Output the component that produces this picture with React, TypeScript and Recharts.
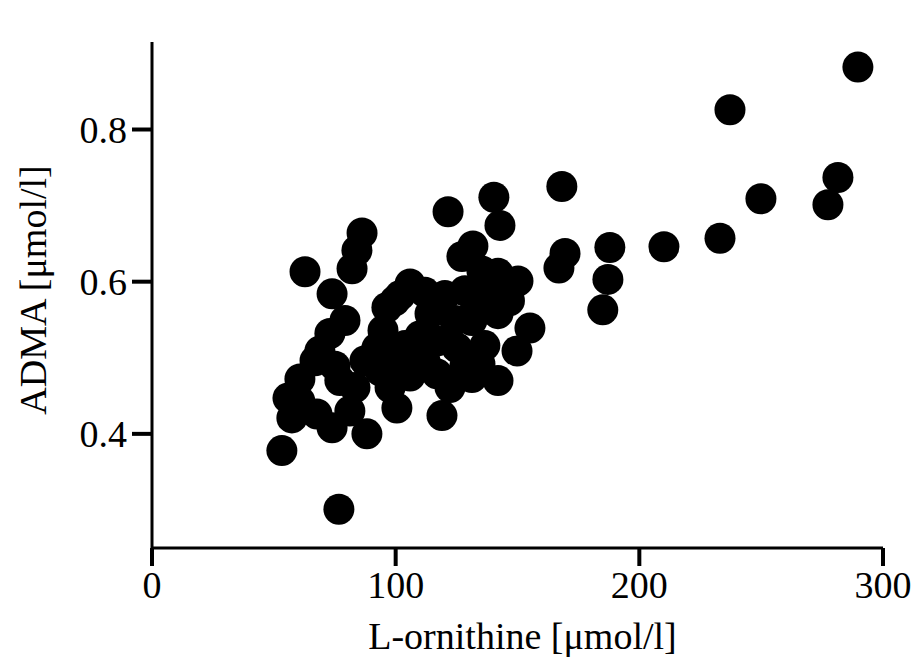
import React from 'react';
import { ScatterChart, Scatter, XAxis, YAxis, Label } from 'recharts';

// L-ornithine [µmol/l]
const ornithine = [
  289.7, 237.2, 281.5, 277.4, 249.9, 233.1, 210.1, 187.9, 187.1, 185.0,
  168.2, 169.5, 167.0, 140.3, 142.8, 121.5, 131.7, 127.2, 142.0, 150.2,
  135.4, 128.4, 134.6, 130.5, 142.0, 131.3, 155.1, 149.8, 142.0, 131.3,
  119.0, 134.6, 105.9, 96.4, 114.1, 92.3, 101.8, 110.0, 116.9, 125.2,
  116.9, 122.3, 97.7, 100.5, 53.3, 76.7, 62.8, 86.2, 84.1, 82.1,
  73.9, 79.2, 73.0, 66.9, 55.8, 57.4, 67.7, 73.9, 88.2, 83.3,
  60.7, 77.1, 101.8, 112.0, 99.7, 94.8, 103.8, 112.0, 105.9, 93.6,
  128.4, 136.6, 124.3, 120.2, 68.9, 75.1, 60.7, 81.2, 87.4, 138.8,
  146.7,
];

// ADMA [µmol/l]
const adma = [
  0.882, 0.826, 0.737, 0.701, 0.709, 0.657, 0.646, 0.645, 0.603, 0.563,
  0.725, 0.637, 0.618, 0.711, 0.674, 0.692, 0.647, 0.633, 0.611, 0.601,
  0.614, 0.588, 0.575, 0.553, 0.558, 0.549, 0.539, 0.509, 0.470, 0.474,
  0.424, 0.492, 0.597, 0.566, 0.558, 0.513, 0.500, 0.529, 0.522, 0.513,
  0.479, 0.461, 0.461, 0.434, 0.378, 0.301, 0.613, 0.664, 0.641, 0.617,
  0.584, 0.549, 0.532, 0.496, 0.447, 0.421, 0.426, 0.408, 0.400, 0.461,
  0.472, 0.470, 0.582, 0.586, 0.575, 0.536, 0.516, 0.496, 0.476, 0.483,
  0.489, 0.516, 0.549, 0.582, 0.509, 0.489, 0.443, 0.430, 0.496, 0.588,
  0.575,
];

const xTicks = [0, 100, 200, 300];
const yTicks = [0.4, 0.6, 0.8];

const data = ornithine.map((x, i) => ({ x, y: adma[i] }));

const font = '"Liberation Serif", "Times New Roman", serif';
const tickStyle = { fill: '#000', fontSize: 38, fontFamily: font };

export default function App() {
  return (
    <div style={{ position: 'absolute', left: 0, top: 0, width: 921, height: 663, background: '#fff' }}>
      <ScatterChart width={921} height={663} margin={{ top: 42, right: 38, bottom: 0, left: 0 }}>
        <XAxis
          type="number"
          dataKey="x"
          domain={[0, 300]}
          ticks={xTicks}
          interval={0}
          height={115}
          tickSize={18}
          tickMargin={5}
          axisLine={{ stroke: '#000', strokeWidth: 3 }}
          tickLine={{ stroke: '#000', strokeWidth: 4 }}
          tick={tickStyle}
          allowDataOverflow
        >
          <Label
            content={({ viewBox }: any) => (
              <text
                x={viewBox.x + viewBox.width / 2 + 5}
                y={649}
                textAnchor="middle"
                fontSize={38}
                fontFamily={font}
                fill="#000"
              >
                L-ornithine [μmol/l]
              </text>
            )}
          />
        </XAxis>
        <YAxis
          type="number"
          dataKey="y"
          domain={[0.25, 0.915]}
          ticks={yTicks}
          interval={0}
          width={152}
          tickSize={20}
          tickMargin={5}
          tickFormatter={(v: number) => v.toFixed(1)}
          axisLine={{ stroke: '#000', strokeWidth: 3 }}
          tickLine={{ stroke: '#000', strokeWidth: 4 }}
          tick={tickStyle}
          allowDataOverflow
        >
          <Label
            content={({ viewBox }: any) => {
              const cx = 33;
              const cy = viewBox.y + viewBox.height / 2 - 5;
              return (
                <text
                  x={cx}
                  y={cy}
                  transform={`rotate(-90, ${cx}, ${cy})`}
                  textAnchor="middle"
                  dominantBaseline="central"
                  fontSize={38}
                  fontFamily={font}
                  fill="#000"
                >
                  ADMA [μmol/l]
                </text>
              );
            }}
          />
        </YAxis>
        <Scatter
          data={data}
          isAnimationActive={false}
          shape={(p: any) => <circle cx={p.cx} cy={p.cy} r={15.5} fill="#000" />}
        />
      </ScatterChart>
    </div>
  );
}
